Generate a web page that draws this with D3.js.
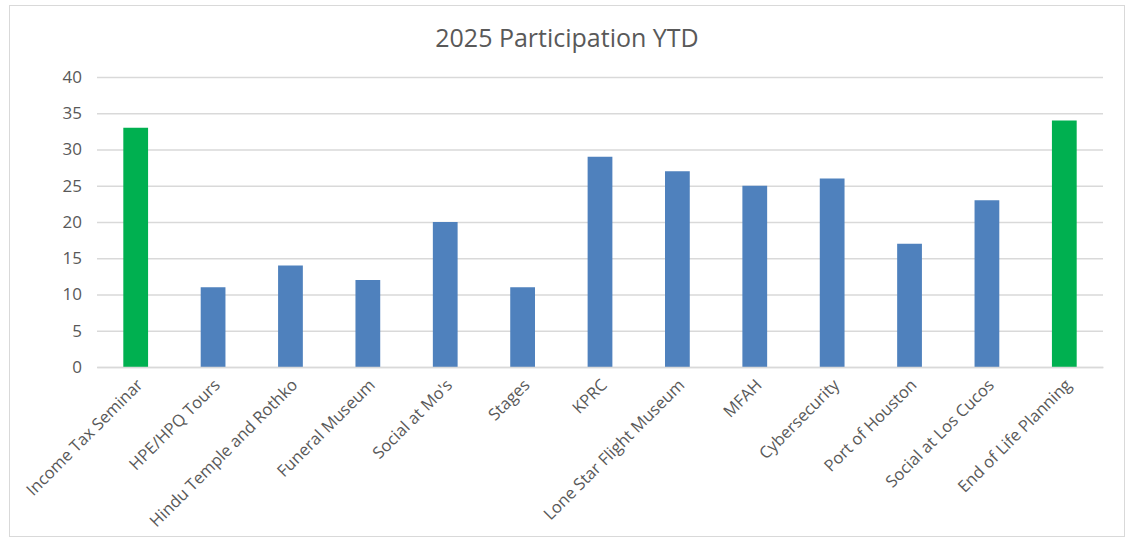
<!DOCTYPE html>
<html>
<head>
<meta charset="utf-8">
<script src="https://cdn.jsdelivr.net/npm/d3@7"></script>
<style>
  body { margin: 0; background: #fff; }
  text { font-family: "Open Sans", "Noto Sans", sans-serif; fill: #595959; }
</style>
</head>
<body>
<div id="chart"></div>
<script>
var categories = ["Income Tax Seminar", "HPE/HPQ Tours", "Hindu Temple and Rothko", "Funeral Museum",
  "Social at Mo's", "Stages", "KPRC", "Lone Star Flight Museum", "MFAH", "Cybersecurity",
  "Port of Houston", "Social at Los Cucos", "End of Life Planning"];
var participants = [33, 11, 14, 12, 20, 11, 29, 27, 25, 26, 17, 23, 34];
var highlighted = ["Income Tax Seminar", "End of Life Planning"];
var yTicks = [0, 5, 10, 15, 20, 25, 30, 35, 40];

var W = 1128, H = 540;
var margin = {top: 77, right: 25, bottom: 173, left: 97},
    width = W - margin.left - margin.right,
    height = H - margin.top - margin.bottom;

var svg = d3.select("#chart").append("svg")
    .attr("width", W)
    .attr("height", H);

// chart frame
svg.append("rect")
    .attr("x", 9.5).attr("y", 5.5)
    .attr("width", 1115).attr("height", 531)
    .attr("fill", "#fff")
    .attr("stroke", "#d9d9d9");

svg.append("text")
    .attr("x", 567).attr("y", 47)
    .attr("text-anchor", "middle")
    .style("font-size", "25px")
    .text("2025 Participation YTD");

var x = d3.scaleBand().domain(categories).range([0, width]).paddingInner(0.68).paddingOuter(0.34);
var y = d3.scaleLinear().domain([0, 40]).range([height, 0]);

var g = svg.append("g")
    .attr("transform", "translate(" + margin.left + "," + margin.top + ")");

g.append("g")
    .attr("class", "y axis")
    .call(d3.axisLeft(y).tickValues(yTicks).tickSize(-width).tickPadding(15))
    .call(function(s) {
      s.select(".domain").remove();
      s.selectAll("line").attr("stroke", "#d9d9d9").attr("stroke-width", 1.3);
      s.selectAll("text").style("font-size", "17px");
    });

g.selectAll(".bar")
    .data(participants)
  .enter().append("rect")
    .attr("class", "bar")
    .attr("x", function(d, i) { return x(categories[i]); })
    .attr("width", x.bandwidth())
    .attr("y", function(d) { return y(d); })
    .attr("height", function(d) { return height - y(d); })
    .attr("fill", function(d, i) { return highlighted.indexOf(categories[i]) >= 0 ? "#00b050" : "#4f81bd"; });

g.append("g")
    .attr("class", "x axis")
    .attr("transform", "translate(0," + height + ")")
    .call(d3.axisBottom(x).tickSize(0).tickPadding(0))
    .call(function(s) {
      s.select(".domain").attr("stroke", "#d9d9d9").attr("stroke-width", 1.3);
      s.selectAll("text")
        .style("font-size", "16.5px")
        .attr("text-anchor", "end")
        .attr("dy", "0.35em")
        .attr("transform", "translate(4,15) rotate(-45)");
    });
</script>
</body>
</html>
